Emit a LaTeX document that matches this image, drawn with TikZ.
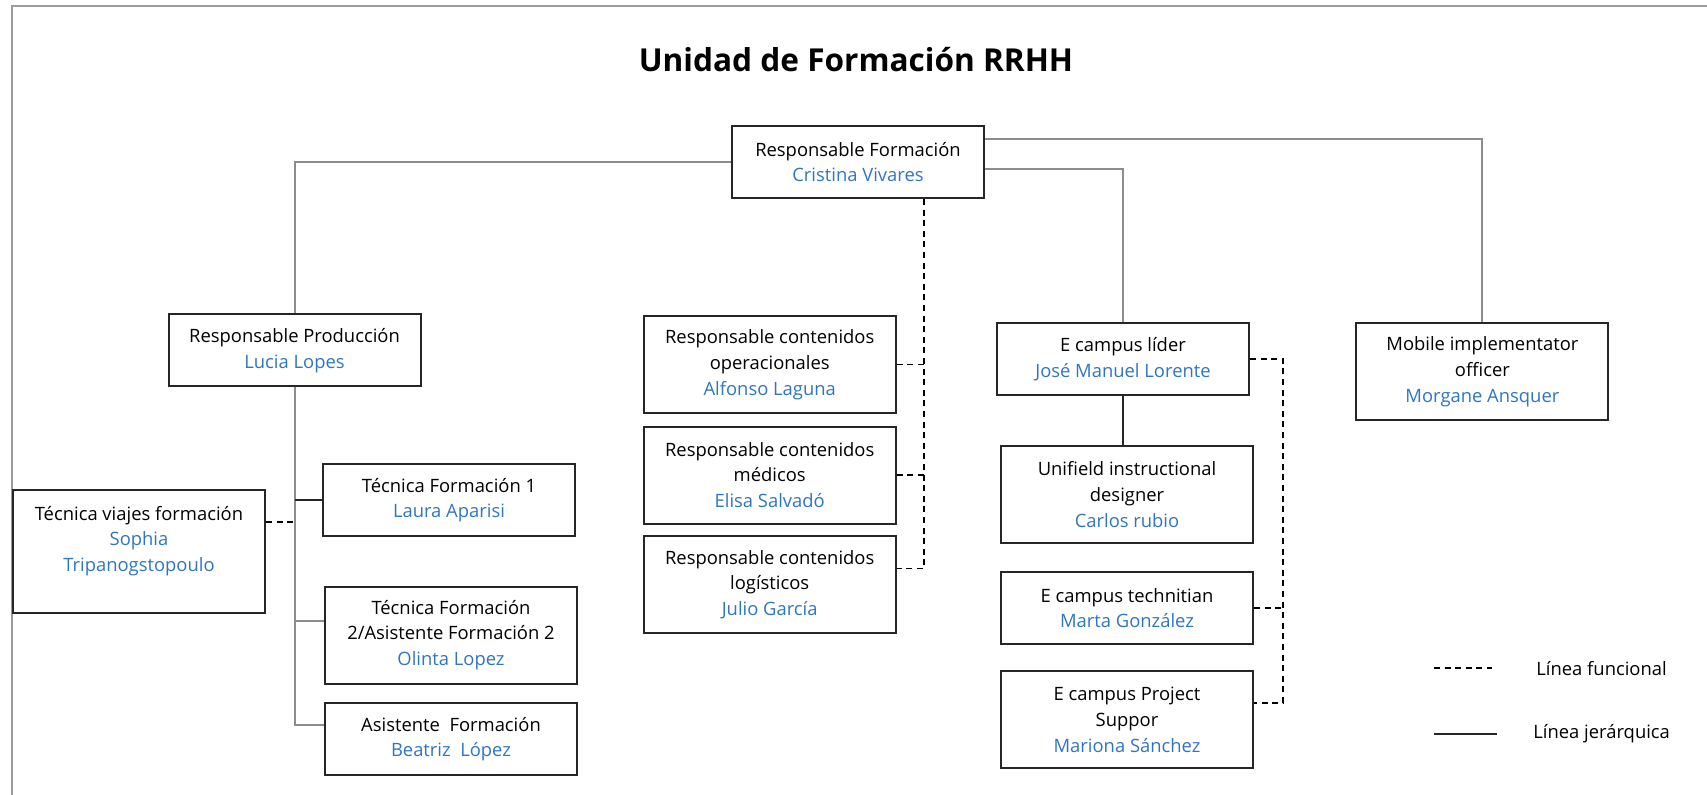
\documentclass[tikz,border=0pt]{standalone}
\usepackage{fontspec}
\setmainfont{Open Sans}
\usepackage{xcolor}
\definecolor{RRHHBlue}{HTML}{2E75C6}
\definecolor{RRHHInk}{HTML}{262626}
\definecolor{RRHHGrey}{HTML}{8C8C8C}
\definecolor{RRHHFrame}{HTML}{9C9C9C}
\usepackage{tikz}
\usetikzlibrary{positioning,calc}
\newcommand{\who}[1]{\textcolor{RRHHBlue}{#1}}

\begin{document}
\begin{tikzpicture}[
  x=0.5pt,y=-0.5pt,
  node distance=6pt,
  box/.style={draw=RRHHInk,line width=1pt,minimum width=126pt,minimum height=36pt,align=center,inner sep=2pt,font=\fontsize{9.2}{12.8}\selectfont},
  tallbox/.style={box,minimum height=48.5pt},
  jer/.style={line width=1pt,draw=RRHHGrey},
  jerdark/.style={line width=1pt,draw=RRHHInk},
  fun/.style={line width=0.8pt,dash pattern=on 3pt off 2.3pt,draw=black},
  legtxt/.style={anchor=west,inner sep=0pt,font=\fontsize{9.2}{12.8}\selectfont}
]
  \useasboundingbox (0,0) rectangle (1707,795);
  \draw[draw=RRHHFrame,line width=1pt] (12,795) -- (12,5.7) -- (1707,5.7);
  \node[font=\bfseries\fontsize{15.8}{18}\selectfont] (title) at (856,60) {Unidad de Formación RRHH};

  \node[box] (rf) at (858,162) {Responsable Formación\\\who{Cristina Vivares}};
  % producción
  \node[box] (rp) at (294.5,350.5) {Responsable Producción\\\who{Lucia Lopes}};
  \node[box,minimum height=61.5pt] (tvf) at (139,551.5) {Técnica viajes formación\\\who{Sophia}\\\who{Tripanogstopoulo}\\~};
  \node[box] (tf1) at (449,500) {Técnica Formación 1\\\who{Laura Aparisi}};
  \node[tallbox,below=24.3pt of tf1,xshift=1pt] (tf2) {Técnica Formación\\2/Asistente Formación 2\\\who{Olinta Lopez}};
  \node[box,below=8.7pt of tf2] (af) {Asistente~~Formación\\\who{Beatriz~~López}};
  % contenidos
  \node[tallbox] (rco) at (769.7,364.7) {Responsable contenidos\\operacionales\\\who{Alfonso Laguna}};
  \node[tallbox,below=5.7pt of rco] (rcm) {Responsable contenidos\\médicos\\\who{Elisa Salvadó}};
  \node[tallbox,below=5.3pt of rcm] (rcl) {Responsable contenidos\\logísticos\\\who{Julio García}};
  % e campus
  \node[box] (ecl) at (1123,359) {E campus líder\\\who{José Manuel Lorente}};
  \node[tallbox,below=24.5pt of ecl,xshift=2pt] (uid) {Unifield instructional\\designer\\\who{Carlos rubio}};
  \node[box,below=13.5pt of uid] (ect) {E campus technitian\\\who{Marta González}};
  \node[tallbox,below=12.7pt of ect] (ecps) {E campus Project\\Suppor\\\who{Mariona Sánchez}};
  \node[tallbox] (mio) at (1482.4,371.8) {Mobile implementator\\officer\\\who{Morgane Ansquer}};

  % jerárquica
  \draw[jer] (rf.west) -| (rp.north);
  \draw[jer] ([yshift=11.5pt]rf.east) -| (mio.north);
  \draw[jer] ([yshift=-3.35pt]rf.east) -| (ecl.north);
  \draw[jerdark] (ecl.south) -- (uid.north -| ecl.south);
  \coordinate (tf2in) at ([yshift=7pt]tf2.west);
  \coordinate (afin) at ([yshift=7.2pt]af.west);
  \draw[jer] (rp.south) |- (afin);
  \draw[jer] (tf2in) -- (tf2in -| rp.south);
  \draw[jerdark] (tf1.west) -- (tf1.west -| rp.south);

  % funcional
  \coordinate (tvfout) at ([yshift=14.75pt]tvf.east);
  \draw[fun] (tvfout) -- (tvfout -| rp.south);
  \coordinate (fb) at ([xshift=33pt]rf.south);
  \draw[fun] (fb) |- ([yshift=8pt]rcl.east);
  \draw[fun] (rco.east) -- (rco.east -| fb);
  \draw[fun] (rcm.east) -- (rcm.east -| fb);
  \coordinate (eb) at ([xshift=16.5pt]ecl.east);
  \draw[fun] (ecl.east) -- (eb) |- ([yshift=8.5pt]ecps.east);
  \draw[fun] (ect.east) -- (ect.east -| eb);

  % leyenda
  \draw[fun] (1434,668) -- (1492,668);
  \node[legtxt] (lfun) at (1536,669) {Línea funcional};
  \draw[jerdark] (1434,734) -- (1497,734);
  \node[legtxt] (ljer) at (1533,734) {Línea jerárquica};
\end{tikzpicture}
\end{document}
